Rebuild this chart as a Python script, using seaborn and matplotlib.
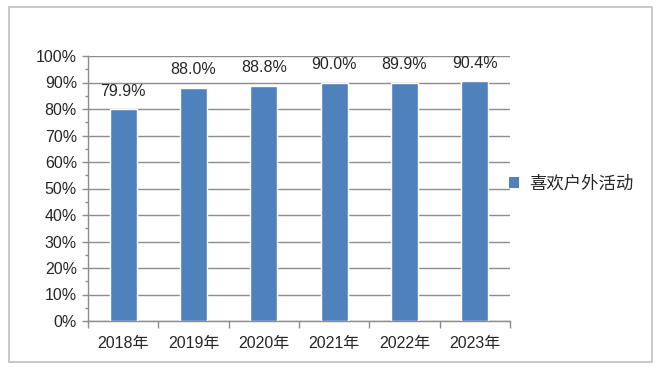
import matplotlib
matplotlib.use("Agg")
import matplotlib.pyplot as plt
import seaborn as sns
import pandas as pd
from matplotlib.patches import Patch, Rectangle
from matplotlib.ticker import MultipleLocator, FixedLocator

years = ["2018年", "2019年", "2020年", "2021年", "2022年", "2023年"]
values = [79.9, 88.0, 88.8, 90.0, 89.9, 90.4]
series_name = "喜欢户外活动"
y_ticks = [0, 10, 20, 30, 40, 50, 60, 70, 80, 90, 100]
y_tick_labels = [f"{v}%" for v in y_ticks]

sns.set_theme(style="white")
plt.rcParams["font.family"] = ["Liberation Sans", "Noto Sans CJK SC", "DejaVu Sans"]

bar_color = "#4f81bd"
grid_color = "#8c8c8c"
text_color = "#262626"

df = pd.DataFrame({"year": years, "value": values})

fig = plt.figure(figsize=(6.6, 3.72), dpi=100)
ax = fig.add_axes([88 / 660, 51 / 372, 422 / 660, 265 / 372])

sns.barplot(data=df, x="year", y="value", color=bar_color, saturation=1,
            width=0.384, ax=ax, zorder=3)

ax.set_xlim(-0.5, len(years) - 0.5)
ax.set_ylim(0, 100)
ax.set_xlabel("")
ax.set_ylabel("")

ax.set_yticks(y_ticks)
ax.set_yticklabels(y_tick_labels)
ax.yaxis.set_minor_locator(MultipleLocator(5))
ax.xaxis.set_minor_locator(FixedLocator([i - 0.5 for i in range(len(years) + 1)]))

ax.grid(axis="y", which="major", color=grid_color, linewidth=1, zorder=0)
ax.set_axisbelow(True)
for s in ["top", "right"]:
    ax.spines[s].set_visible(False)
for s in ["left", "bottom"]:
    ax.spines[s].set_color(grid_color)
    ax.spines[s].set_linewidth(1)

ax.tick_params(axis="y", which="major", direction="out", length=4.5, width=1,
               color=grid_color, pad=3.5, labelsize=11.5, labelcolor=text_color, left=True)
ax.tick_params(axis="y", which="minor", direction="out", length=2.2, width=1,
               color=grid_color, left=True)
ax.tick_params(axis="x", which="major", length=0, pad=11, labelsize=11.5,
               labelcolor=text_color, bottom=True)
ax.tick_params(axis="x", which="minor", direction="out", length=5, width=1,
               color=grid_color, bottom=True)

for i, v in enumerate(values):
    ax.annotate(f"{v:.1f}%", xy=(i, v), xytext=(0, 13), textcoords="offset points",
                ha="center", va="center", fontsize=11.5, color=text_color, zorder=4)

handle = Patch(facecolor=bar_color, edgecolor="none")
fig.legend(handles=[handle], labels=[series_name], loc="center left",
           bbox_to_anchor=(509 / 660, (372 - 183) / 372), frameon=False,
           handlelength=0.6, handleheight=0.6, handletextpad=0.55,
           borderpad=0, borderaxespad=0, fontsize=12.5, labelcolor=text_color)

frame = Rectangle((9 / 660, 10 / 372), 643 / 660, 355 / 372, transform=fig.transFigure,
                  fill=False, edgecolor="#bfbfbf", linewidth=1.2)
fig.patches.append(frame)

fig.savefig("out.png", dpi=100, facecolor="white")
